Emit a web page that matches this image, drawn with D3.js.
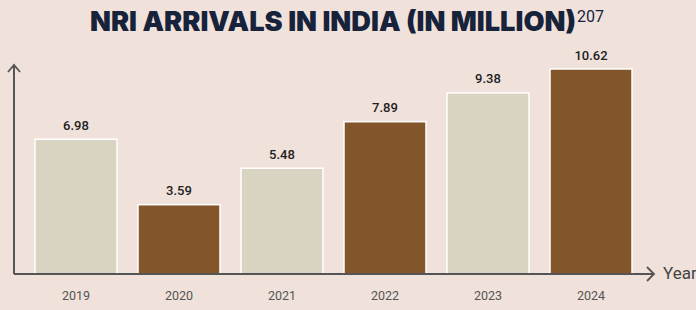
<!DOCTYPE html>
<html>
<head>
<meta charset="utf-8">
<script src="https://cdn.jsdelivr.net/npm/d3@7"></script>
<style>
  body { margin: 0; background: #f0e1db; }
  svg { display: block; }
</style>
</head>
<body>
<div id="chart"></div>
<script>
const years = ["2019", "2020", "2021", "2022", "2023", "2024"];
const arrivals = [6.98, 3.59, 5.48, 7.89, 9.38, 10.62];
const barColors = ["#d9d3c2", "#83552a", "#d9d3c2", "#83552a", "#d9d3c2", "#83552a"];

const width = 696, height = 310;
const axisY = 274, axisX = 14;

const svg = d3.select("#chart").append("svg")
  .attr("width", width)
  .attr("height", height);

svg.append("rect").attr("width", width).attr("height", height).attr("fill", "#f0e1db");

// title + superscript note
svg.append("text")
  .attr("x", 90)
  .attr("y", 31)
  .attr("fill", "#17233a")
  .style("font-family", "Inter, 'DejaVu Sans', sans-serif")
  .style("font-weight", 900)
  .style("font-size", "27px")
  .attr("textLength", 486)
  .attr("lengthAdjust", "spacingAndGlyphs")
  .text("NRI ARRIVALS IN INDIA (IN MILLION)");

svg.append("text")
  .attr("x", 577)
  .attr("y", 22)
  .attr("fill", "#17233a")
  .style("font-family", "Roboto, sans-serif")
  .style("font-size", "16px")
  .text("207");

// scales
const x = d3.scaleBand()
  .domain(years)
  .range([24.5, 642.5])
  .paddingInner(0.204)
  .paddingOuter(0.102);

const y = d3.scaleLinear()
  .domain([0, 10.62])
  .range([axisY, 69]);

const data = years.map((d, i) => ({ year: d, value: arrivals[i], color: barColors[i] }));

// bars
svg.selectAll(".bar")
  .data(data)
  .enter()
  .append("rect")
  .attr("class", "bar")
  .attr("x", d => x(d.year))
  .attr("y", d => y(d.value))
  .attr("width", x.bandwidth())
  .attr("height", d => axisY - y(d.value))
  .attr("fill", d => d.color)
  .attr("stroke", "#ffffff")
  .attr("stroke-width", 1.5);

// value labels
svg.selectAll(".val")
  .data(data)
  .enter()
  .append("text")
  .attr("x", d => x(d.year) + x.bandwidth() / 2)
  .attr("y", d => y(d.value) - 9.5)
  .attr("text-anchor", "middle")
  .attr("fill", "#222")
  .style("font-family", "Roboto, sans-serif")
  .style("font-weight", 500)
  .style("font-size", "13px")
  .text(d => d.value.toFixed(2));

// x axis (year labels only, no ticks)
const xAxis = svg.append("g")
  .attr("transform", "translate(0," + axisY + ")")
  .call(d3.axisBottom(x).tickSize(0).tickPadding(17));
xAxis.select(".domain").remove();
xAxis.selectAll("text")
  .attr("fill", "#555")
  .style("font-family", "Roboto, sans-serif")
  .style("font-size", "12.5px");

// axis lines with arrows
const axisColor = "#555";
svg.append("path")
  .attr("d", `M${axisX},${axisY} H654`)
  .attr("stroke", axisColor).attr("stroke-width", 2).attr("fill", "none");
svg.append("path")
  .attr("d", `M647,${axisY - 7} L654,${axisY} L647,${axisY + 7}`)
  .attr("stroke", axisColor).attr("stroke-width", 1.8).attr("fill", "none");
svg.append("path")
  .attr("d", `M${axisX},${axisY} V65`)
  .attr("stroke", axisColor).attr("stroke-width", 2).attr("fill", "none");
svg.append("path")
  .attr("d", `M${axisX - 6},72 L${axisX},65 L${axisX + 6},72`)
  .attr("stroke", axisColor).attr("stroke-width", 1.8).attr("fill", "none");

svg.append("text")
  .attr("x", 663)
  .attr("y", 279)
  .attr("fill", "#444")
  .style("font-family", "Roboto, sans-serif")
  .style("font-size", "17px")
  .text("Year");
</script>
</body>
</html>
